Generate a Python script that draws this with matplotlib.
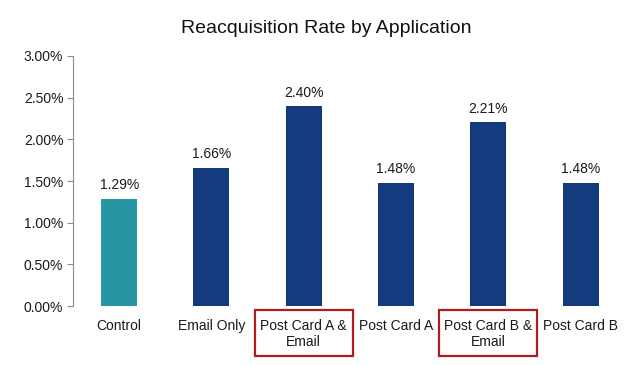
import matplotlib
matplotlib.use("Agg")
import matplotlib.pyplot as plt
from matplotlib.patches import Rectangle
import matplotlib.transforms as mtransforms
from matplotlib.ticker import FuncFormatter

categories = ["Control", "Email Only", "Post Card A &\nEmail", "Post Card A",
              "Post Card B &\nEmail", "Post Card B"]
values = [1.29, 1.66, 2.40, 1.48, 2.21, 1.48]
highlighted = ["Post Card A &\nEmail", "Post Card B &\nEmail"]
yticks = [0.0, 0.5, 1.0, 1.5, 2.0, 2.5, 3.0]

plt.rcParams['font.family'] = ['Liberation Sans', 'DejaVu Sans']

teal = "#2696A2"
navy = "#143B7E"
colors = [teal] + [navy] * (len(categories) - 1)

fig = plt.figure(figsize=(6.28, 3.65), dpi=100)
ax = fig.add_axes([0.1162, 0.1616, 0.882, 0.685])

x = list(range(len(categories)))
bars = ax.bar(x, values, width=0.39, color=colors)
for xi, v in zip(x, values):
    ax.annotate(f"{v:.2f}%", (xi, v), xytext=(0, 4.5), textcoords="offset points",
                ha="center", va="bottom", fontsize=10, color="#1a1a1a")

ax.set_xlim(-0.5, len(categories) - 0.5)
ax.set_ylim(0, 3.0)
ax.set_yticks(yticks)
ax.yaxis.set_major_formatter(FuncFormatter(lambda v, p: f"{v:.2f}%"))
ax.set_xticks(x)
ax.set_xticklabels(categories, fontsize=10, linespacing=1.2)
ax.tick_params(axis="x", length=0, pad=9, colors="#1a1a1a")
ax.tick_params(axis="y", length=4, width=0.8, color="#8c8c8c", pad=3,
               labelsize=10, labelcolor="#1a1a1a")
for s in ["top", "right", "bottom"]:
    ax.spines[s].set_visible(False)
ax.spines["left"].set_color("#8c8c8c")
ax.spines["left"].set_linewidth(0.8)

fig.text(0.52, 0.922, "Reacquisition Rate by Application", ha="center",
         va="center", fontsize=14, color="#111111")

trans = mtransforms.blended_transform_factory(ax.transData, fig.transFigure)
for lab in highlighted:
    i = categories.index(lab)
    rect = Rectangle((i - 0.53, 0.025), 1.06, 0.126, transform=trans,
                     fill=False, edgecolor="#B01C1C", linewidth=1.6,
                     clip_on=False)
    fig.add_artist(rect)

fig.savefig("out.png", dpi=100)
